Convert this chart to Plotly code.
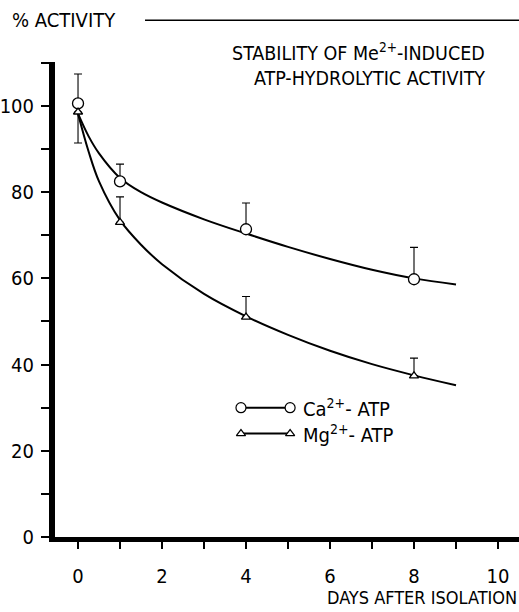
import plotly.graph_objects as go

# measured points
days = [0, 1, 4, 8]
ca_activity = [100.6, 82.5, 71.4, 59.8]
ca_err_up = [6.8, 4.0, 6.1, 7.4]
mg_activity = [98.6, 73.0, 51.0, 37.4]
mg_err_up = [0, 5.9, 4.8, 4.1]
mg_err_down = [7.2, 0, 0, 0]

# fitted curves
curve_days = [0, 0.25, 0.5, 1, 1.5, 2, 3, 4, 5, 6, 7, 8, 9]
ca_curve = [98.2, 93.0, 89.0, 83.3, 80.0, 77.6, 73.7, 70.4, 67.3, 64.5, 62.0, 60.0, 58.6]
mg_curve = [98.2, 89.5, 82.5, 73.5, 67.8, 63.3, 56.4, 51.2, 46.9, 43.2, 40.1, 37.5, 35.2]

# legend sample positions (data units)
legend_x = [3.88, 5.05]
legend_ca_y = [30, 30]
legend_mg_y = [24, 24]

x_ticks = [0, 2, 4, 6, 8, 10]
y_ticks = [0, 20, 40, 60, 80, 100]

FONT = "Liberation Sans Narrow, DejaVu Sans Condensed, sans-serif"
fig = go.Figure()

fig.add_trace(go.Scatter(x=curve_days, y=ca_curve, mode="lines", line=dict(color="black", width=2, shape="spline"), hoverinfo="skip"))
fig.add_trace(go.Scatter(x=curve_days, y=mg_curve, mode="lines", line=dict(color="black", width=2, shape="spline"), hoverinfo="skip"))

fig.add_trace(go.Scatter(
    x=days, y=ca_activity, mode="markers",
    marker=dict(symbol="circle", size=11, color="white", line=dict(width=1.3, color="black")),
    error_y=dict(type="data", symmetric=False, array=ca_err_up, arrayminus=[0]*4, color="black", thickness=1.1, width=4),
))
fig.add_trace(go.Scatter(
    x=days, y=mg_activity, mode="markers",
    marker=dict(symbol="triangle-up", size=8, color="white", line=dict(width=1.3, color="black")),
    error_y=dict(type="data", symmetric=False, array=mg_err_up, arrayminus=mg_err_down, color="black", thickness=1.1, width=4),
))

# legend samples
fig.add_trace(go.Scatter(x=legend_x, y=legend_ca_y, mode="lines+markers", line=dict(color="black", width=2),
                         marker=dict(symbol="circle", size=10, color="white", line=dict(width=1.2, color="black"))))
fig.add_trace(go.Scatter(x=legend_x, y=legend_mg_y, mode="lines+markers", line=dict(color="black", width=2),
                         marker=dict(symbol="triangle-up", size=8, color="white", line=dict(width=1.2, color="black"))))

fig.update_layout(
    width=519, height=612,
    margin=dict(l=55, r=0, t=62, b=75),
    paper_bgcolor="white", plot_bgcolor="white",
    showlegend=False,
    font=dict(family=FONT, color="black", size=20),
)
fig.update_xaxes(
    range=[-0.548, 10.5], tickvals=x_ticks, ticks="outside", ticklen=7, tickwidth=1.5, tickcolor="black",
    showline=True, linewidth=5, linecolor="black", showgrid=False, zeroline=False,
    minor=dict(dtick=1, tick0=0, ticks="outside", ticklen=7, tickwidth=1.5, tickcolor="black"),
    tickfont=dict(size=20, family=FONT), ticklabelstandoff=10,
)
fig.update_yaxes(
    range=[0, 110.2], tickvals=y_ticks, ticks="outside", ticklen=8, tickwidth=1.5, tickcolor="black",
    showline=True, linewidth=6, linecolor="black", showgrid=False, zeroline=False,
    minor=dict(dtick=10, tick0=0, ticks="outside", ticklen=8, tickwidth=1.5, tickcolor="black"),
    tickfont=dict(size=20, family=FONT), ticklabelstandoff=3,
)

fig.add_shape(type="line", xref="paper", yref="paper", x0=0.194, x1=1.0, y0=1.088, y1=1.088,
              line=dict(color="black", width=1.5))

annotations = [
    dict(text="% ACTIVITY", x=-0.097, y=1.088, xanchor="left", yanchor="middle", font=dict(size=20)),
    dict(text="STABILITY OF Me<sup>2+</sup>-INDUCED", x=0.931, y=1.02, xanchor="right", yanchor="middle", font=dict(size=19.5)),
    dict(text="ATP-HYDROLYTIC ACTIVITY", x=0.931, y=0.965, xanchor="right", yanchor="middle", font=dict(size=19.5)),
    dict(text="DAYS AFTER ISOLATION", x=1.0, y=-0.128, xanchor="right", yanchor="middle", font=dict(size=18)),
]
for a in annotations:
    fig.add_annotation(xref="paper", yref="paper", showarrow=False, **a)

fig.add_annotation(text="Ca<sup>2+</sup>- ATP", x=5.3, y=30, xanchor="left", yanchor="middle", showarrow=False, font=dict(size=20))
fig.add_annotation(text="Mg<sup>2+</sup>- ATP", x=5.3, y=24, xanchor="left", yanchor="middle", showarrow=False, font=dict(size=20))

fig.write_html("out.html", config={"displayModeBar": False},
               post_script="document.body.style.margin='0';")
